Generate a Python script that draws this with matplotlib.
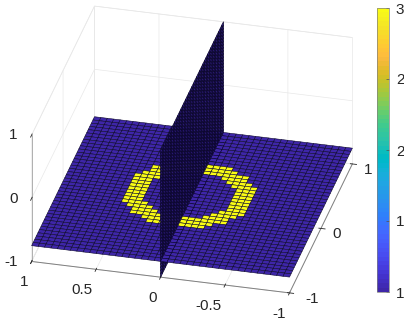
"""Two crossing surfaces in a 3-D box, with a parula colorbar."""

import matplotlib

matplotlib.use("Agg")
import matplotlib.pyplot as plt
import numpy as np
from matplotlib.cm import ScalarMappable
from matplotlib.colors import ListedColormap, Normalize

PARULA = [
    (0.2422, 0.1504, 0.6603), (0.2504, 0.1650, 0.7076), (0.2578, 0.1818, 0.7511), (0.2647, 0.1978, 0.7952),
    (0.2706, 0.2147, 0.8364), (0.2751, 0.2342, 0.8710), (0.2783, 0.2559, 0.8991), (0.2803, 0.2782, 0.9221),
    (0.2813, 0.3006, 0.9414), (0.2810, 0.3228, 0.9579), (0.2795, 0.3447, 0.9717), (0.2760, 0.3667, 0.9829),
    (0.2699, 0.3892, 0.9906), (0.2602, 0.4123, 0.9952), (0.2440, 0.4358, 0.9988), (0.2206, 0.4603, 0.9973),
    (0.1963, 0.4847, 0.9892), (0.1834, 0.5074, 0.9798), (0.1786, 0.5289, 0.9682), (0.1764, 0.5499, 0.9520),
    (0.1687, 0.5703, 0.9359), (0.1540, 0.5902, 0.9218), (0.1460, 0.6091, 0.9079), (0.1380, 0.6276, 0.8973),
    (0.1248, 0.6459, 0.8883), (0.1113, 0.6635, 0.8763), (0.0952, 0.6798, 0.8598), (0.0689, 0.6948, 0.8394),
    (0.0297, 0.7082, 0.8163), (0.0036, 0.7203, 0.7917), (0.0067, 0.7312, 0.7660), (0.0433, 0.7411, 0.7394),
    (0.0964, 0.7500, 0.7120), (0.1408, 0.7584, 0.6842), (0.1717, 0.7670, 0.6554), (0.1938, 0.7758, 0.6251),
    (0.2161, 0.7843, 0.5923), (0.2470, 0.7918, 0.5567), (0.2906, 0.7973, 0.5188), (0.3406, 0.8008, 0.4789),
    (0.3909, 0.8029, 0.4354), (0.4456, 0.8024, 0.3909), (0.5044, 0.7993, 0.3480), (0.5616, 0.7942, 0.3045),
    (0.6174, 0.7876, 0.2612), (0.6720, 0.7793, 0.2227), (0.7242, 0.7698, 0.1910), (0.7738, 0.7598, 0.1646),
    (0.8203, 0.7498, 0.1535), (0.8634, 0.7406, 0.1596), (0.9035, 0.7330, 0.1774), (0.9393, 0.7288, 0.2100),
    (0.9728, 0.7298, 0.2394), (0.9956, 0.7434, 0.2371), (0.9970, 0.7659, 0.2199), (0.9952, 0.7893, 0.2028),
    (0.9892, 0.8136, 0.1885), (0.9786, 0.8386, 0.1766), (0.9676, 0.8639, 0.1643), (0.9610, 0.8890, 0.1537),
    (0.9597, 0.9135, 0.1423), (0.9628, 0.9373, 0.1265), (0.9691, 0.9606, 0.1064), (0.9769, 0.9839, 0.0805),
]

# grid vertices
x_grid = [round(-1 + 0.05 * k, 2) for k in range(41)]
y_grid = [round(-1 + 0.05 * k, 2) for k in range(41)]
floor_z = -0.75
plane_x = 0.0
low_value = 1
high_value = 3

# '#' is a ring vertex, rows run y = 0.45 down to y = -0.45, columns x = -0.5 to 0.5
ring_rows = [
    "......#########......",
    ".....###########.....",
    "...###############...",
    "...####.......####...",
    "..####.........####..",
    ".####...........####.",
    ".###.............###.",
    ".###.............###.",
    ".###.............###.",
    ".###.............###.",
    ".###.............###.",
    ".###.............###.",
    ".###.............###.",
    ".####...........####.",
    "..####.........####..",
    "...####.......####...",
    "...###############...",
    ".....###########.....",
    "......#########......",
]
ring_top_y = 0.45
ring_left_x = -0.5

x_ticks = [1, 0.5, 0, -0.5, -1]
x_tick_labels = ["1", "0.5", "0", "-0.5", "-1"]
y_ticks = [-1, 0, 1]
y_tick_labels = ["-1", "0", "1"]
z_ticks = [-1, 0, 1]
z_tick_labels = ["-1", "0", "1"]
cbar_ticks = [1, 1.5, 2, 2.5, 3]
cbar_tick_labels = ["1", "1.5", "2", "2.5", "3"]

W, H = 404, 322


def floor_values():
    x = np.array(x_grid)
    y = np.array(y_grid)
    values = np.full((y.size, x.size), float(low_value))
    for r, row in enumerate(ring_rows):
        j = np.argmin(np.abs(y - (ring_top_y - 0.05 * r)))
        for c, ch in enumerate(row):
            if ch == "#":
                i = np.argmin(np.abs(x - (ring_left_x + 0.05 * c)))
                values[j, i] = high_value
    return values


def main():
    plt.rcParams["font.family"] = ["Liberation Sans", "DejaVu Sans"]
    plt.rcParams["font.size"] = 11
    plt.rcParams["grid.color"] = "#e8e8e8"
    plt.rcParams["grid.linewidth"] = 0.5

    fig = plt.figure(figsize=(W / 100, H / 100), dpi=100)
    side = 391.0
    left = 192.0 - 0.5135 * side
    bottom = (H - 149.5) - 0.5135 * side
    ax = fig.add_axes([left / W, bottom / H, side / W, side / H], projection="3d", computed_zorder=False)
    ax.set_proj_type("ortho")
    ax.view_init(elev=30.0, azim=-76.3)
    ax.set_box_aspect((1, 1, 0.55))
    ax.set_xlim(1, -1)
    ax.set_ylim(-1, 1)
    ax.set_zlim(-1, 1)

    cmap = ListedColormap(PARULA)
    norm = Normalize(low_value, high_value)
    x = np.array(x_grid)
    y = np.array(y_grid)
    values = floor_values()
    colors = cmap(norm(values))
    mid = np.argmin(np.abs(x - plane_x))
    edge = dict(rstride=1, cstride=1, shade=False, edgecolor="#0a0628", antialiased=True)

    # surfaces are split along their crossing so the draw order is right
    xx, yy = np.meshgrid(x[mid:], y)
    ax.plot_surface(xx, yy, np.full_like(xx, floor_z), facecolors=colors[:, mid:], zorder=1, linewidth=0.38, **edge)

    yy, zz = np.meshgrid(y, np.linspace(-1, 1, 41))
    plane_colors = cmap(norm(np.full_like(yy, low_value)))
    ax.plot_surface(np.full_like(yy, plane_x), yy, zz, facecolors=plane_colors, zorder=2, linewidth=0.5, **edge)

    xx, yy = np.meshgrid(x[: mid + 1], y)
    ax.plot_surface(xx, yy, np.full_like(xx, floor_z), facecolors=colors[:, : mid + 1], zorder=3, linewidth=0.38, **edge)

    ax.set_xticks(x_ticks, x_tick_labels)
    ax.set_yticks(y_ticks, y_tick_labels)
    ax.set_zticks(z_ticks, z_tick_labels)
    ax.tick_params(colors="#262626", labelsize=11, pad=0)
    ax.zaxis.set_tick_params(pad=-1.5)
    ax.yaxis.set_tick_params(pad=1)
    ax.zaxis.set_ticks_position("lower")
    for label in ax.get_xticklabels() + ax.get_zticklabels():
        label.set_ha("right")
    for label in ax.get_yticklabels() + ax.get_zticklabels():
        label.set_va("baseline")
    ax.get_yticklabels()[0].set_ha("left")
    for axis in (ax.xaxis, ax.yaxis, ax.zaxis):
        axis.set_pane_color((1, 1, 1, 1))
        axis.pane.set_edgecolor("#e8e8e8")
        axis.pane.set_linewidth(0.5)
        axis.line.set_color("#808080")
        axis.line.set_linewidth(0.7)
        axis._axinfo["tick"]["color"] = "#808080"
        axis._axinfo["tick"]["linewidth"] = {True: 0.6, False: 0.4}
    ax.zaxis.line.set_color("#909090")
    ax.zaxis.line.set_linewidth(0.5)

    cax = fig.add_axes([377 / W, (H - 292) / H, 12 / W, 284 / H])
    cbar = fig.colorbar(ScalarMappable(norm=norm, cmap=cmap), cax=cax, ticks=cbar_ticks)
    cbar.ax.set_yticklabels(cbar_tick_labels)
    cbar.ax.tick_params(labelsize=11, length=2, width=0.5, direction="in", color="#505050", labelcolor="#262626", pad=5)
    cbar.outline.set_edgecolor("#808080")
    cbar.outline.set_linewidth(0.5)

    fig.savefig("out.png", dpi=100)
    plt.close(fig)


if __name__ == "__main__":
    main()
